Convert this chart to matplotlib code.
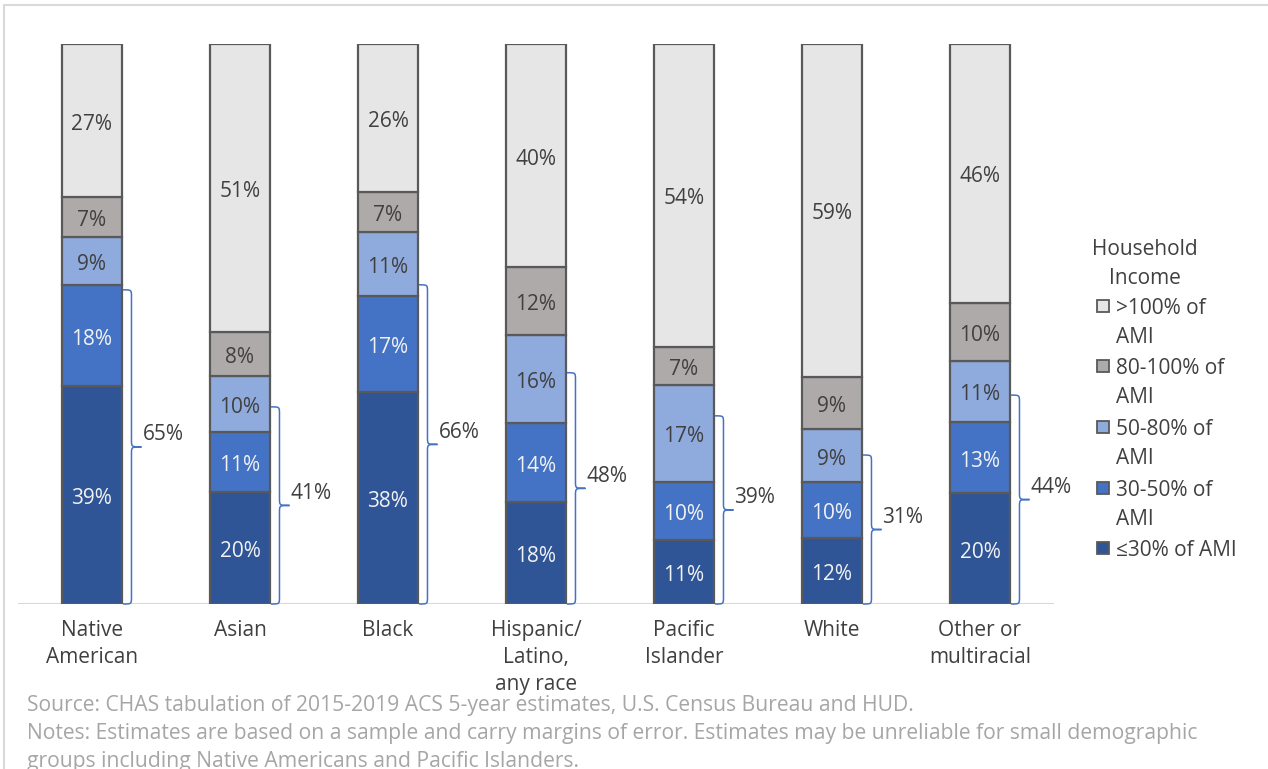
import numpy as np
import matplotlib
matplotlib.use("Agg")
import matplotlib.pyplot as plt
import matplotlib.patches as mpatches
from matplotlib.path import Path

plt.rcParams['font.family'] = ['Open Sans', 'DejaVu Sans']

# DADOS
categorias = ["Native\nAmerican", "Asian", "Black", "Hispanic/\nLatino,\nany race",
              "Pacific\nIslander", "White", "Other or\nmultiracial"]
ami_30 = [38.9, 20.0, 37.9, 18.2, 11.4, 11.8, 19.8]
ami_30_50 = [18.0, 10.7, 17.1, 14.1, 10.4, 10.0, 12.7]
ami_50_80 = [8.6, 10.0, 11.4, 15.7, 17.3, 9.4, 10.9]
ami_80_100 = [7.1, 7.9, 7.2, 12.1, 6.8, 9.4, 10.4]
ami_100 = [27.4, 51.4, 26.4, 39.9, 54.1, 59.4, 46.2]
series_labels = ["\u226430% of AMI", "30-50% of\nAMI", "50-80% of\nAMI",
                 "80-100% of\nAMI", ">100% of\nAMI"]
# chaves (abaixo de 80% AMI)
chave_rotulo = [65, 41, 66, 48, 39, 31, 44]
chave_topo = [56.1, 35.2, 57.0, 41.3, 33.6, 26.6, 37.3]

cores = ['#2F5597', '#4472C4', '#8FAADC', '#AEAAAA', '#E7E6E6']
cores_texto = ['#F2F2F2', '#F2F2F2', '#404040', '#404040', '#404040']
series = [ami_30, ami_30_50, ami_50_80, ami_80_100, ami_100]

W, H = 1268, 769
fig = plt.figure(figsize=(W / 100, H / 100), dpi=100)
ax = fig.add_axes([18 / W, 1 - 604 / H, (1054 - 18) / W, (604 - 44) / H])

px = len(categorias) / (1054 - 18)   # unidades x por pixel
py = 100 / (604 - 44)                # unidades y por pixel

x = np.arange(len(categorias))
largura = 0.405
base = np.zeros(len(categorias))
for vals, cor, ct in zip(series, cores, cores_texto):
    vals = np.array(vals)
    ax.bar(x, vals, largura, bottom=base, color=cor, edgecolor='#595959',
           linewidth=1.6, zorder=3)
    for xi, b, v in zip(x, base, vals):
        ax.text(xi, b + v / 2 - 3.5 * py, f'{v:.0f}%', ha='center', va='center',
                fontsize=15, color=ct, zorder=4)
    base += vals

ax.set_xlim(-0.5, len(categorias) - 0.5)
ax.set_ylim(0, 100)
for s in ax.spines.values():
    s.set_visible(False)
ax.axhline(0, color='#D9D9D9', linewidth=2.2, zorder=2)
ax.set_yticks([])
ax.set_xticks(x)
ax.set_xticklabels(categorias, fontsize=15, color='#404040', linespacing=1.38, va='top')
ax.tick_params(axis='x', length=0, pad=11.5)

# chaves
for xi, topo, rot in zip(x, chave_topo, chave_rotulo):
    direita = xi + largura / 2
    x0 = direita + 1 * px
    x1 = direita + 9.5 * px
    x2 = x1 + 10 * px
    meio = topo / 2
    h = 7 * py
    verts = [(x0, topo), (x1, topo), (x1, topo), (x1, topo - h),
             (x1, meio + h),
             (x1, meio), (x1, meio), (x2, meio),
             (x1, meio), (x1, meio), (x1, meio - h),
             (x1, h),
             (x1, 0), (x1, 0), (x0, 0)]
    codes = [Path.MOVETO, Path.CURVE4, Path.CURVE4, Path.CURVE4,
             Path.LINETO,
             Path.CURVE4, Path.CURVE4, Path.CURVE4,
             Path.CURVE4, Path.CURVE4, Path.CURVE4,
             Path.LINETO,
             Path.CURVE4, Path.CURVE4, Path.CURVE4]
    ax.add_patch(mpatches.PathPatch(Path(verts, codes), fill=False,
                                    edgecolor='#4472C4', linewidth=1.1,
                                    zorder=5, clip_on=False))
    ax.text(x2 + 1 * px, meio + 12 * py, f'{rot}%', ha='left', va='center',
            fontsize=15, color='#404040')

# legenda manual
fig.text(1145 / W, 1 - 264 / H, 'Household\nIncome', ha='center', va='center',
         fontsize=15, color='#404040', linespacing=1.5)
y_leg = [306, 366, 427, 488, 548]
for yy, cor, lab in zip(y_leg, cores[::-1], series_labels[::-1]):
    fig.patches.append(mpatches.Rectangle((1097 / W, 1 - (yy + 6) / H), 12 / W, 12 / H,
                                          transform=fig.transFigure, facecolor=cor,
                                          edgecolor='#595959', linewidth=1.3))
    fig.text(1116 / W, 1 - (yy - 8) / H, lab, ha='left', va='top', fontsize=15,
             color='#404040', linespacing=1.5)

# rodapé
rodape = ["Source: CHAS tabulation of 2015-2019 ACS 5-year estimates, U.S. Census Bureau and HUD.",
          "Notes: Estimates are based on a sample and carry margins of error. Estimates may be unreliable for small demographic",
          "groups including Native Americans and Pacific Islanders."]
for i, linha in enumerate(rodape):
    fig.text(27 / W, 1 - (705 + 28 * i) / H, linha, ha='left', va='center',
             fontsize=15.2, color='#A6A6A6')

# moldura
fig.patches.append(mpatches.Rectangle((4 / W, -0.05), 1.1, 1 - 5 / H + 0.05,
                                      transform=fig.transFigure, fill=False,
                                      edgecolor='#D9D9D9', linewidth=1.5))

plt.savefig('out.png', dpi=100)
